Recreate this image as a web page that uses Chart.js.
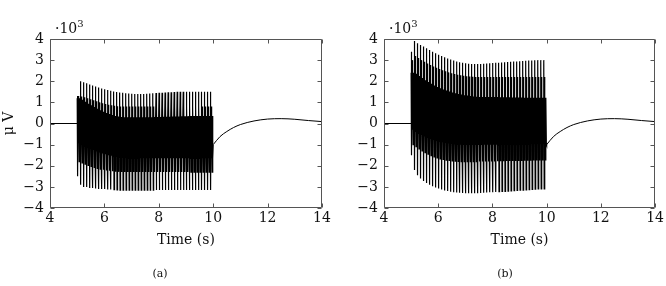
<!DOCTYPE html>
<html>
<head>
<meta charset="utf-8">
<script src="https://cdn.jsdelivr.net/npm/chart.js@4"></script>
<style>
  body { margin: 0; width: 666px; height: 286px; background: #fff; position: relative; overflow: hidden; font-family: "DejaVu Serif", serif; color: #111; }
  canvas { position: absolute; top: 0; }
  .exp { position: absolute; top: 18px; font-size: 14px; }
  .exp span { font-size: 10px; vertical-align: 6px; }
  .cap { position: absolute; top: 267px; font-size: 11px; transform: translateX(-50%); }
</style>
</head>
<body>
<canvas id="chartA" width="333" height="286" style="left:0"></canvas>
<canvas id="chartB" width="333" height="286" style="left:333px"></canvas>
<div class="exp" style="left:55px">·10<span>3</span></div>
<div class="exp" style="left:389px">·10<span>3</span></div>
<div class="cap" style="left:160px">(a)</div>
<div class="cap" style="left:505px">(b)</div>
<script>
// values in units of 10^3 µV, one entry per stimulation cycle (45 cycles between 5 s and 10 s)
const cycleStart = 5, cycleEnd = 10;

// (a)
const aPeak   = [1.3, 2.0, 1.95, 1.9, 1.85, 1.8, 1.75, 1.7, 1.66, 1.62, 1.58, 1.55, 1.52, 1.49, 1.47, 1.45, 1.43, 1.42, 1.41, 1.4, 1.4, 1.4, 1.4, 1.41, 1.42, 1.43, 1.44, 1.45, 1.46, 1.47, 1.48, 1.48, 1.49, 1.5, 1.5, 1.5, 1.5, 1.5, 1.5, 1.5, 1.5, 1.5, 1.5, 1.5, 1.5];
const aTrough = [-2.5, -2.9, -3.0, -3.0, -3.05, -3.05, -3.08, -3.1, -3.1, -3.1, -3.12, -3.12, -3.13, -3.14, -3.15, -3.15, -3.15, -3.15, -3.15, -3.15, -3.15, -3.15, -3.15, -3.15, -3.15, -3.15, -3.15, -3.15, -3.15, -3.15, -3.15, -3.15, -3.15, -3.15, -3.15, -3.15, -3.15, -3.15, -3.15, -3.15, -3.15, -3.15, -3.15, -3.15, -3.15];
const aMidHi  = [1.3, 1.28, 1.24, 1.2, 1.15, 1.1, 1.05, 1.0, 0.96, 0.92, 0.89, 0.86, 0.84, 0.82, 0.8, 0.8, 0.8, 0.8, 0.8, 0.8, 0.8, 0.8, 0.8, 0.8, 0.8, 0.8, 0.8, 0.8, 0.8, 0.8, 0.8, 0.8, 0.8, 0.8, 0.8, 0.8, 0.8, 0.8, 0.8, 0.8, 0.8, 0.8, 0.8, 0.8, 0.8];
const aBandHi = [1.2, 1.12, 1.03, 0.94, 0.86, 0.78, 0.7, 0.63, 0.56, 0.5, 0.45, 0.4, 0.36, 0.33, 0.31, 0.3, 0.3, 0.3, 0.3, 0.3, 0.3, 0.3, 0.3, 0.3, 0.3, 0.31, 0.31, 0.31, 0.32, 0.32, 0.32, 0.33, 0.33, 0.33, 0.34, 0.34, 0.34, 0.35, 0.35, 0.35, 0.35, 0.35, 0.35, 0.35, 0.35];
const aBandLo = [-0.9, -0.98, -1.06, -1.13, -1.2, -1.26, -1.32, -1.37, -1.42, -1.46, -1.5, -1.53, -1.56, -1.58, -1.6, -1.62, -1.63, -1.64, -1.65, -1.65, -1.65, -1.65, -1.65, -1.65, -1.65, -1.65, -1.65, -1.65, -1.65, -1.65, -1.65, -1.65, -1.65, -1.65, -1.65, -1.65, -1.65, -1.65, -1.65, -1.65, -1.65, -1.65, -1.65, -1.65, -1.65];
const aMidLo  = [-1.8, -1.86, -1.92, -1.98, -2.03, -2.08, -2.12, -2.16, -2.19, -2.22, -2.24, -2.26, -2.28, -2.29, -2.3, -2.3, -2.3, -2.3, -2.3, -2.3, -2.3, -2.3, -2.3, -2.3, -2.3, -2.3, -2.3, -2.3, -2.3, -2.3, -2.3, -2.3, -2.3, -2.3, -2.3, -2.3, -2.3, -2.3, -2.3, -2.3, -2.3, -2.3, -2.3, -2.3, -2.3];

// (b)
const bPeak   = [3.4, 3.9, 3.8, 3.72, 3.64, 3.56, 3.48, 3.4, 3.33, 3.26, 3.2, 3.14, 3.08, 3.03, 2.98, 2.94, 2.9, 2.87, 2.85, 2.83, 2.82, 2.82, 2.82, 2.82, 2.83, 2.84, 2.85, 2.86, 2.87, 2.88, 2.89, 2.9, 2.91, 2.92, 2.93, 2.94, 2.95, 2.96, 2.97, 2.98, 2.98, 2.99, 3.0, 3.0, 3.0];
const bTrough = [-1.5, -2.2, -2.45, -2.6, -2.72, -2.82, -2.9, -2.97, -3.03, -3.08, -3.13, -3.17, -3.2, -3.23, -3.25, -3.27, -3.28, -3.29, -3.3, -3.3, -3.3, -3.3, -3.3, -3.29, -3.28, -3.27, -3.26, -3.25, -3.24, -3.23, -3.22, -3.21, -3.2, -3.19, -3.18, -3.17, -3.16, -3.15, -3.14, -3.13, -3.12, -3.11, -3.1, -3.1, -3.1];
const bMidHi  = [3.0, 3.2, 3.1, 3.0, 2.92, 2.84, 2.77, 2.7, 2.64, 2.58, 2.52, 2.47, 2.42, 2.38, 2.34, 2.31, 2.28, 2.26, 2.24, 2.22, 2.21, 2.2, 2.2, 2.2, 2.2, 2.2, 2.2, 2.2, 2.2, 2.2, 2.2, 2.2, 2.2, 2.2, 2.2, 2.2, 2.2, 2.2, 2.2, 2.2, 2.2, 2.2, 2.2, 2.2, 2.2];
const bBandHi = [2.4, 2.35, 2.25, 2.15, 2.05, 1.96, 1.88, 1.8, 1.73, 1.67, 1.61, 1.56, 1.51, 1.47, 1.43, 1.4, 1.37, 1.34, 1.32, 1.3, 1.28, 1.27, 1.26, 1.25, 1.25, 1.25, 1.25, 1.25, 1.25, 1.24, 1.24, 1.24, 1.24, 1.23, 1.23, 1.23, 1.23, 1.22, 1.22, 1.22, 1.22, 1.22, 1.22, 1.22, 1.22];
const bBandLo = [-0.3, -0.4, -0.48, -0.55, -0.62, -0.68, -0.73, -0.78, -0.82, -0.86, -0.89, -0.92, -0.95, -0.97, -0.99, -1.0, -1.01, -1.02, -1.02, -1.02, -1.02, -1.02, -1.02, -1.02, -1.01, -1.01, -1.0, -1.0, -1.0, -0.99, -0.99, -0.98, -0.98, -0.97, -0.97, -0.97, -0.96, -0.96, -0.96, -0.95, -0.95, -0.95, -0.95, -0.95, -0.95];
const bMidLo  = [-1.0, -1.1, -1.2, -1.3, -1.38, -1.45, -1.52, -1.58, -1.63, -1.67, -1.7, -1.73, -1.75, -1.77, -1.78, -1.79, -1.8, -1.8, -1.8, -1.8, -1.8, -1.8, -1.8, -1.8, -1.8, -1.8, -1.8, -1.8, -1.79, -1.79, -1.79, -1.78, -1.78, -1.78, -1.77, -1.77, -1.77, -1.76, -1.76, -1.76, -1.75, -1.75, -1.75, -1.75, -1.75];

// before and after stimulation (same in both panels)
const restT = [4, 5];
const restV = [0, 0];
const tailT = [10, 10.25, 10.5, 10.75, 11, 11.5, 12, 12.5, 13, 13.5, 14];
const tailV = [-1.0, -0.62, -0.38, -0.19, -0.05, 0.12, 0.21, 0.23, 0.2, 0.14, 0.09];

const yTickVals = [-4, -3, -2, -1, 0, 1, 2, 3, 4];
const xTickVals = [4, 6, 8, 10, 12, 14];

// order in which the levels are visited inside one cycle, with the fraction of the period
const cycleShape = [
  ['bandHi', 0], ['peak', 0.08], ['trough', 0.18], ['midHi', 0.3], ['bandLo', 0.42],
  ['bandHi', 0.54], ['midLo', 0.66], ['bandHi', 0.78], ['bandLo', 0.9]
];

function buildBurst(levels) {
  const n = levels.peak.length;
  const T = (cycleEnd - cycleStart) / n;
  const pts = [];
  for (let i = 0; i < n; i++) {
    const t0 = cycleStart + i * T;
    cycleShape.forEach(([k, f]) => pts.push({ x: t0 + f * T, y: levels[k][i] }));
  }
  pts.push({ x: tailT[0], y: tailV[0] });
  return pts;
}

const framePlugin = {
  id: 'frame',
  afterDraw(chart) {
    const { ctx, chartArea: a, scales: { x, y } } = chart;
    const L = Math.round(a.left) + 0.5, R = Math.round(a.right) - 0.5;
    const T = Math.round(a.top) + 0.5, B = Math.round(a.bottom) - 0.5;
    ctx.save();
    ctx.strokeStyle = '#555';
    ctx.lineWidth = 1;
    ctx.beginPath();
    ctx.rect(L, T, R - L, B - T);
    xTickVals.forEach(v => {
      const px = Math.round(x.getPixelForValue(v)) + 0.5;
      ctx.moveTo(px, B); ctx.lineTo(px, B - 4);
      ctx.moveTo(px, T); ctx.lineTo(px, T + 4);
    });
    yTickVals.forEach(v => {
      const py = Math.round(y.getPixelForValue(v)) + 0.5;
      ctx.moveTo(L, py); ctx.lineTo(L + 4, py);
      ctx.moveTo(R, py); ctx.lineTo(R - 4, py);
    });
    ctx.stroke();
    ctx.restore();
  }
};

const tickFont = { family: 'DejaVu Serif', size: 14 };

function makeChart(id, burst, yTitle, yWidth, padRight) {
  new Chart(document.getElementById(id), {
    type: 'scatter',
    data: {
      datasets: [
        { data: restT.map((t, i) => ({ x: t, y: restV[i] })), showLine: true, borderColor: '#000', borderWidth: 1, pointRadius: 0 },
        { data: burst, showLine: true, borderColor: '#000', borderWidth: 1.2, pointRadius: 0, tension: 0 },
        { data: tailT.map((t, i) => ({ x: t, y: tailV[i] })), showLine: true, borderColor: '#000', borderWidth: 1, pointRadius: 0, cubicInterpolationMode: 'monotone' }
      ]
    },
    options: {
      responsive: false,
      animation: false,
      events: [],
      layout: { padding: { top: 39, right: padRight, bottom: 30, left: 0 } },
      plugins: { legend: { display: false }, tooltip: { enabled: false } },
      scales: {
        x: {
          type: 'linear', min: 4, max: 14,
          grid: { display: false, drawTicks: false },
          border: { display: false },
          ticks: { stepSize: 2, padding: 2, color: '#111', font: tickFont, maxRotation: 0 },
          title: { display: true, text: 'Time (s)', color: '#111', font: { family: 'DejaVu Serif', size: 14 }, padding: { top: 0, bottom: 7 } },
          afterFit(s) { s.height = 48; }
        },
        y: {
          min: -4, max: 4,
          grid: { display: false, drawTicks: false },
          border: { display: false },
          ticks: { stepSize: 1, padding: 6, color: '#111', font: tickFont,
                   callback: v => v < 0 ? '\u2212' + Math.abs(v) : String(v) },
          title: { display: !!yTitle, text: yTitle, color: '#111', font: { family: 'DejaVu Serif', size: 14 }, padding: { top: 1, bottom: 0 } },
          afterFit(s) { s.width = yWidth; }
        }
      }
    },
    plugins: [framePlugin]
  });
}

makeChart('chartA', buildBurst({ peak: aPeak, trough: aTrough, midHi: aMidHi, bandHi: aBandHi, bandLo: aBandLo, midLo: aMidLo }), 'μ V', 50, 11);
makeChart('chartB', buildBurst({ peak: bPeak, trough: bTrough, midHi: bMidHi, bandHi: bBandHi, bandLo: bBandLo, midLo: bMidLo }), '', 51, 10);
</script>
</body>
</html>
